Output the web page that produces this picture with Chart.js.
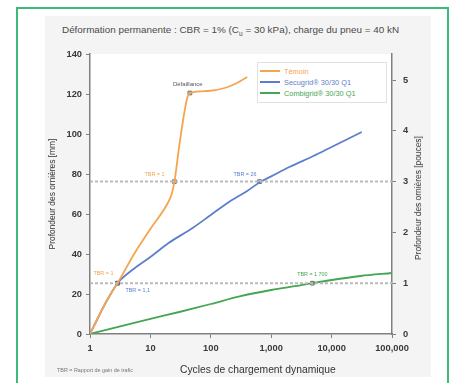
<!DOCTYPE html>
<html lang="fr">
<head>
<meta charset="utf-8">
<title>Déformation permanente</title>
<script src="https://cdn.jsdelivr.net/npm/chart.js@4.4.1/dist/chart.umd.min.js"></script>
<style>
  body {
    margin: 0;
    width: 465px;
    height: 383px;
    position: relative;
    overflow: hidden;
    background: #fff;
    font-family: "Liberation Sans", Arial, sans-serif;
  }
  #frame {
    position: absolute;
    left: 16px;
    top: 7px;
    width: 429px;
    height: 400px;
    border: 2px solid #3cba7c;
  }
  #panel {
    position: absolute;
    left: 45px;
    top: 16px;
    width: 386px;
    height: 361px;
    background: #f4f4f4;
  }
  #rutChart {
    position: absolute;
    left: 0;
    top: 0;
  }
  #title {
    position: absolute;
    left: 62px;
    top: 24px;
    font-size: 9.9px;
    color: #4a4a4a;
    white-space: nowrap;
  }
  #title sub { font-size: 6.5px; }
  #chartLegend {
    position: absolute;
    left: 257px;
    top: 62px;
    width: 128px;
    padding: 3px 0 3px 0;
    background: #fff;
    border: 1px solid #e2e2e2;
    font-size: 7.4px;
  }
  #chartLegend p {
    margin: 0;
    height: 11px;
    line-height: 11px;
    white-space: nowrap;
  }
  #chartLegend span {
    display: inline-block;
    width: 20px;
    height: 2px;
    margin: 0 4px 2px 2px;
    vertical-align: middle;
  }
  #xTitle {
    position: absolute;
    left: 180px;
    top: 364px;
    font-size: 10.3px;
    color: #333;
  }
  #y2Title {
    position: absolute;
    left: 418px;
    top: 198px;
    transform: translate(-50%, -50%) rotate(-90deg);
    font-size: 8.4px;
    color: #333;
    white-space: nowrap;
  }
  #note {
    position: absolute;
    left: 57px;
    top: 367px;
    font-size: 5.4px;
    color: #777;
  }
</style>
</head>
<body>
<div id="frame"></div>
<div id="panel"></div>
<div id="title">Déformation permanente : CBR = 1% (C<sub>u</sub> = 30 kPa), charge du pneu = 40 kN</div>
<canvas id="rutChart" width="465" height="383"></canvas>
<div id="chartLegend"></div>
<div id="xTitle">Cycles de chargement dynamique</div>
<div id="y2Title">Profondeur des ornières [pouces]</div>
<div id="note">TBR = Rapport de gain de trafic</div>

<script>
// series
const seriesNames = ["Témoin", "Secugrid® 30/30 Q1", "Combigrid® 30/30 Q1"];
const seriesColors = ["#f5a54e", "#5d7fcb", "#44a552"];

const controlCycles = [1, 1.3, 1.7, 2.2, 2.85, 5.5, 10.5, 18.6, 22.5, 25, 30.5, 40, 45, 90, 170, 250, 400];
const controlDepth = [0, 7, 14, 20, 25.4, 40.5, 53.5, 64.5, 70, 76.2, 95.5, 117, 120.5, 121.5, 123, 125, 128.5];

const secugridCycles = [1, 1.3, 1.7, 2.2, 2.85, 5, 10, 20, 50, 100, 200, 400, 640, 1000, 2000, 5000, 10000, 20000, 31600];
const secugridDepth = [0, 7, 14, 20, 25.4, 32, 38.5, 45.5, 53, 59.5, 66, 71.5, 75.8, 78.8, 83.5, 89, 93.5, 98, 101];

const combigridCycles = [1, 2, 5, 10, 30, 100, 300, 1000, 3000, 4800, 10000, 30000, 100000];
const combigridDepth = [0, 2.3, 5.3, 7.6, 11, 15, 18.8, 22, 24.3, 25.4, 27, 29, 30.5];

// reference rut depths (inches) and axis ticks
const refInches = [1, 3];
const cycleTicks = [1, 10, 100, 1000, 10000, 100000];
const inchTicks = [0, 1, 2, 3, 4, 5];

// marked points + notes
const noteCycles = [2.85, 2.85, 25, 640, 4800, 45];
const noteDepth = [25.4, 25.4, 76.2, 76.2, 25.4, 120.5];
const noteTexts = ["TBR = 1", "TBR = 1,1", "TBR = 1", "TBR = 26", "TBR = 1 700", "Défaillance"];
const noteColors = ["#f5a54e", "#5d7fcb", "#f5a54e", "#5d7fcb", "#44a552", "#555"];

const toPoints = (xs, ys) => xs.map((x, i) => ({ x: x, y: ys[i] }));

const curve = (i, xs, ys) => ({
  label: seriesNames[i],
  data: toPoints(xs, ys),
  borderColor: seriesColors[i],
  backgroundColor: seriesColors[i],
  borderWidth: 1.8,
  pointRadius: 0,
  cubicInterpolationMode: "monotone",
  yAxisID: "y",
});

const refLines = refInches.map((v) => ({
  label: "ref" + v,
  data: [
    { x: cycleTicks[0], y: v },
    { x: cycleTicks[cycleTicks.length - 1], y: v },
  ],
  borderColor: "#b9b9b9",
  borderWidth: 2,
  borderDash: [3, 2],
  pointRadius: 0,
  yAxisID: "y2",
}));

// white plot area + little notes next to the markers
const plotBg = {
  id: "plotBg",
  beforeDraw(chart) {
    const { ctx, chartArea } = chart;
    ctx.save();
    ctx.fillStyle = "#fff";
    ctx.fillRect(chartArea.left, chartArea.top, chartArea.right - chartArea.left, chartArea.bottom - chartArea.top);
    ctx.restore();
  },
};

const noteShift = [
  [-24, -10, "left"],
  [8, 7, "left"],
  [-10, -7, "right"],
  [-3, -7, "right"],
  [0, -9, "center"],
  [-2, -9, "center"],
];

const notes = {
  id: "notes",
  afterDatasetsDraw(chart) {
    const { ctx, scales } = chart;
    ctx.save();
    ctx.textBaseline = "middle";
    noteTexts.forEach((t, i) => {
      const px = scales.x.getPixelForValue(noteCycles[i]);
      const py = scales.y.getPixelForValue(noteDepth[i]);
      ctx.font = (i === 5 ? "6px" : "5.4px") + " 'Liberation Sans', Arial, sans-serif";
      ctx.fillStyle = noteColors[i];
      ctx.textAlign = noteShift[i][2];
      ctx.fillText(t, px + noteShift[i][0], py + noteShift[i][1]);
    });
    ctx.restore();
  },
};

const tickFont = { family: "'Liberation Sans', Arial, sans-serif", size: 9.3, weight: "bold" };
const axisGrid = { drawOnChartArea: false, drawTicks: true, tickLength: 4, color: "#808080", lineWidth: 1 };
const axisBorder = { color: "#808080", width: 1.5 };

const ctx = document.getElementById("rutChart").getContext("2d");
const rutChart = new Chart(ctx, {
  type: "line",
  data: {
    datasets: [
      ...refLines,
      curve(0, controlCycles, controlDepth),
      curve(1, secugridCycles, secugridDepth),
      curve(2, combigridCycles, combigridDepth),
      {
        label: "points",
        type: "scatter",
        data: toPoints(noteCycles, noteDepth),
        pointStyle: "rect",
        pointRadius: 2.6,
        borderColor: "#6d6d6d",
        backgroundColor: "rgba(150,150,150,0.45)",
        borderWidth: 1,
        yAxisID: "y",
      },
    ],
  },
  options: {
    responsive: false,
    animation: false,
    devicePixelRatio: 1,
    layout: { padding: { top: 54, left: 0, right: 0, bottom: 0 } },
    plugins: {
      legend: { display: false },
      tooltip: { enabled: false },
    },
    scales: {
      x: {
        type: "logarithmic",
        min: 1,
        max: 100000,
        grid: axisGrid,
        border: axisBorder,
        afterBuildTicks: (scale) => {
          scale.ticks = cycleTicks.map((v) => ({ value: v }));
        },
        afterFit: (scale) => {
          scale.height = 49;
        },
        ticks: {
          color: "#3a3a3a",
          font: tickFont,
          padding: 5,
          maxRotation: 0,
          autoSkip: false,
          callback: (value) => Number(value).toLocaleString("en-US"),
        },
      },
      y: {
        position: "left",
        min: 0,
        max: 140,
        grid: axisGrid,
        border: axisBorder,
        afterFit: (scale) => {
          scale.width = 90;
        },
        ticks: { stepSize: 20, color: "#3a3a3a", font: tickFont, padding: 4 },
        title: {
          display: true,
          text: "Profondeur des ornières [mm]",
          color: "#333",
          font: { family: "'Liberation Sans', Arial, sans-serif", size: 8.4 },
          padding: { top: 48, bottom: 0 },
        },
      },
      y2: {
        position: "right",
        min: 0,
        max: 140 / 25.4,
        grid: axisGrid,
        border: axisBorder,
        afterBuildTicks: (scale) => {
          scale.ticks = inchTicks.map((v) => ({ value: v }));
        },
        afterFit: (scale) => {
          scale.width = 73;
        },
        ticks: { color: "#3a3a3a", font: tickFont, padding: 7 },
      },
    },
  },
  plugins: [plotBg, notes],
});

// legend box
const legendBox = document.getElementById("chartLegend");
seriesNames.forEach((name, i) => {
  const p = document.createElement("p");
  const line = document.createElement("span");
  line.style.background = seriesColors[i];
  p.style.color = seriesColors[i];
  p.appendChild(line);
  p.appendChild(document.createTextNode(name));
  legendBox.appendChild(p);
});
</script>
</body>
</html>
